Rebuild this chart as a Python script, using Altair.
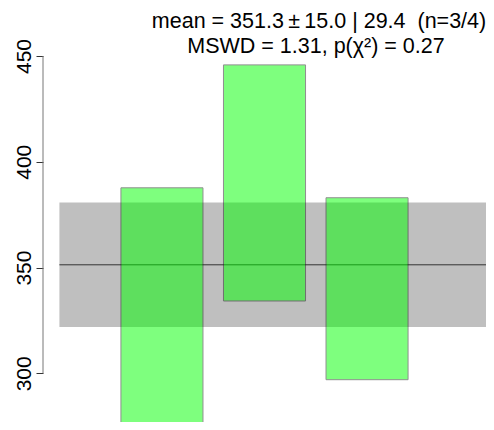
import altair as alt
import pandas as pd

# data
aliquot = [1, 2, 3]
lower = [260.0, 334.2, 297.0]
upper = [387.7, 445.8, 383.0]
mean_value = 351.3
band_half = 29.4
y_ticks = [300, 350, 400, 450]
title_lines = ["mean = 351.3\u2009\u00b1\u200915.0 | 29.4 \u00a0(n=3/4)", "MSWD = 1.31, p(\u03c7\u00b2) = 0.27"]

FONT = "Liberation Sans"
W, H = 443, 366
YDOM = [277, 450]
XDOM = [-0.16, 4.16]

bars = pd.DataFrame({"x": aliquot, "lo": lower, "hi": upper})
bars["x0"] = bars["x"] - 0.4
bars["x1"] = bars["x"] + 0.4
band = pd.DataFrame({"x": [0], "lo": [mean_value - band_half], "hi": [mean_value + band_half], "m": [mean_value]})
axis_df = pd.DataFrame({"lo": [min(y_ticks)], "hi": [max(y_ticks)]})

xs = alt.Scale(domain=XDOM, nice=False, zero=False)
ys = alt.Scale(domain=YDOM, nice=False, zero=False)

yaxis = alt.Axis(values=y_ticks, labelAngle=270, labelAlign="center", labelBaseline="alphabetic",
                 labelFontSize=21, labelFont=FONT, labelColor="black", tickSize=7, tickColor="#333",
                 labelPadding=6, domain=False, grid=False, title=None)

band_layer = alt.Chart(band).mark_rect(color="#bfbfbf", clip=True).encode(
    x=alt.X("x:Q", scale=xs, axis=None), x2=alt.value(W),
    y=alt.Y("lo:Q", scale=ys, axis=yaxis), y2="hi:Q")

line_layer = alt.Chart(band).mark_rule(color="#333", strokeWidth=1).encode(
    x=alt.X("x:Q", scale=xs), x2=alt.value(W), y=alt.Y("m:Q", scale=ys))

bar_layer = alt.Chart(bars).mark_rect(color="#00ff00", opacity=0.5, stroke="#222",
                                      strokeOpacity=1, strokeWidth=1, clip=True).encode(
    x=alt.X("x0:Q", scale=xs), x2="x1:Q", y=alt.Y("lo:Q", scale=ys), y2="hi:Q")

axis_line = alt.Chart(axis_df).mark_rule(color="#777", strokeWidth=1).encode(
    x=alt.value(0), y=alt.Y("lo:Q", scale=ys), y2="hi:Q")

title_df1 = pd.DataFrame({"t": [title_lines[0]]})
title_df2 = pd.DataFrame({"t": [title_lines[1]]})
tkw = dict(font=FONT, fontSize=21.5, color="black", align="center", baseline="alphabetic")
title1 = alt.Chart(title_df1).mark_text(**tkw).encode(text="t:N", x=alt.value(276), y=alt.value(-28))
title2 = alt.Chart(title_df2).mark_text(**tkw).encode(text="t:N", x=alt.value(273), y=alt.value(-3))

chart = alt.layer(band_layer, line_layer, bar_layer, axis_line, title1, title2).properties(
    width=W, height=H,
    padding={"left": 35, "top": 48, "right": 0, "bottom": 0},
    autosize=alt.AutoSizeParams(type="none"),
).configure_view(stroke=None)

chart.save("out.html", embed_options={"renderer": "svg", "actions": False})
